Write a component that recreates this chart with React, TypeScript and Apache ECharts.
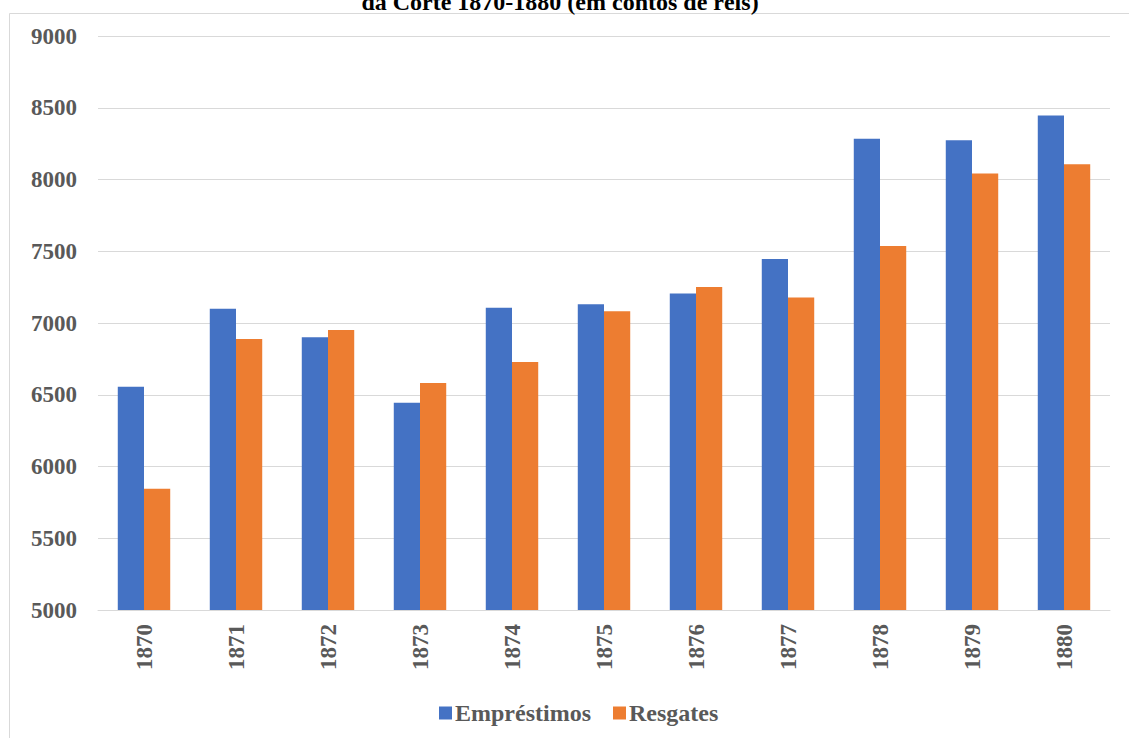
import React, { useEffect, useRef } from "react";
import * as echarts from "echarts";

const titleText = "da Corte 1870-1880 (em contos de réis)";
const years = ["1870", "1871", "1872", "1873", "1874", "1875", "1876", "1877", "1878", "1879", "1880"];
const emprestimos = [6555, 7100, 6900, 6445, 7107, 7131, 7206, 7446, 8284, 8274, 8446];
const resgates = [5845, 6888, 6951, 6582, 6728, 7082, 7251, 7178, 7536, 8041, 8107];
const seriesNames = ["Empréstimos", "Resgates"];

const FONT = "Liberation Serif";
const GRAY = "#595959";

export default function App() {
  const ref = useRef<HTMLDivElement>(null);
  useEffect(() => {
    if (!ref.current) return;
    const chart = echarts.init(ref.current, null, { renderer: "svg" });
    chart.setOption({
      animation: false,
      backgroundColor: "#ffffff",
      color: ["#4472C4", "#ED7D31"],
      grid: { left: 98, right: 19, top: 36, bottom: 128, containLabel: false },
      xAxis: {
        type: "category",
        data: years,
        axisLine: { show: true, lineStyle: { color: "#d9d9d9", width: 1 } },
        axisTick: { show: false },
        axisLabel: {
          rotate: 90,
          margin: 14,
          color: GRAY,
          fontFamily: FONT,
          fontWeight: "bold",
          fontSize: 23,
        },
      },
      yAxis: {
        type: "value",
        min: 5000,
        max: 9000,
        interval: 500,
        axisLine: { show: false },
        axisTick: { show: false },
        splitLine: { lineStyle: { color: "#d9d9d9", width: 1 } },
        axisLabel: {
          margin: 21,
          color: GRAY,
          fontFamily: FONT,
          fontWeight: "bold",
          fontSize: 23,
          formatter: (v: number) => String(v),
        },
      },
      legend: {
        left: 434,
        top: 696,
        itemWidth: 13,
        itemHeight: 13,
        itemGap: 22,
        icon: "rect",
        textStyle: { color: GRAY, fontFamily: FONT, fontWeight: "bold", fontSize: 24, padding: [0, 0, 0, -2] },
        data: seriesNames,
      },
      series: [
        { name: seriesNames[0], type: "bar", data: emprestimos, barGap: "0%", barCategoryGap: "43%" },
        { name: seriesNames[1], type: "bar", data: resgates, barGap: "0%", barCategoryGap: "43%" },
      ],
      graphic: [
        {
          type: "rect",
          shape: { x: 9.5, y: 13.5, width: 1300, height: 900 },
          style: { fill: "none", stroke: "#d9d9d9", lineWidth: 1 },
          silent: true,
          z: -1,
        },
        {
          type: "text",
          x: 560,
          y: 2,
          style: {
            text: titleText,
            fill: "#000000",
            font: `bold 24px "Liberation Serif"`,
            align: "center",
            verticalAlign: "middle",
          },
        },
      ],
    });
    return () => chart.dispose();
  }, []);
  return (
    <div
      ref={ref}
      style={{ position: "absolute", left: 0, top: 0, width: 1129, height: 738 }}
    />
  );
}
